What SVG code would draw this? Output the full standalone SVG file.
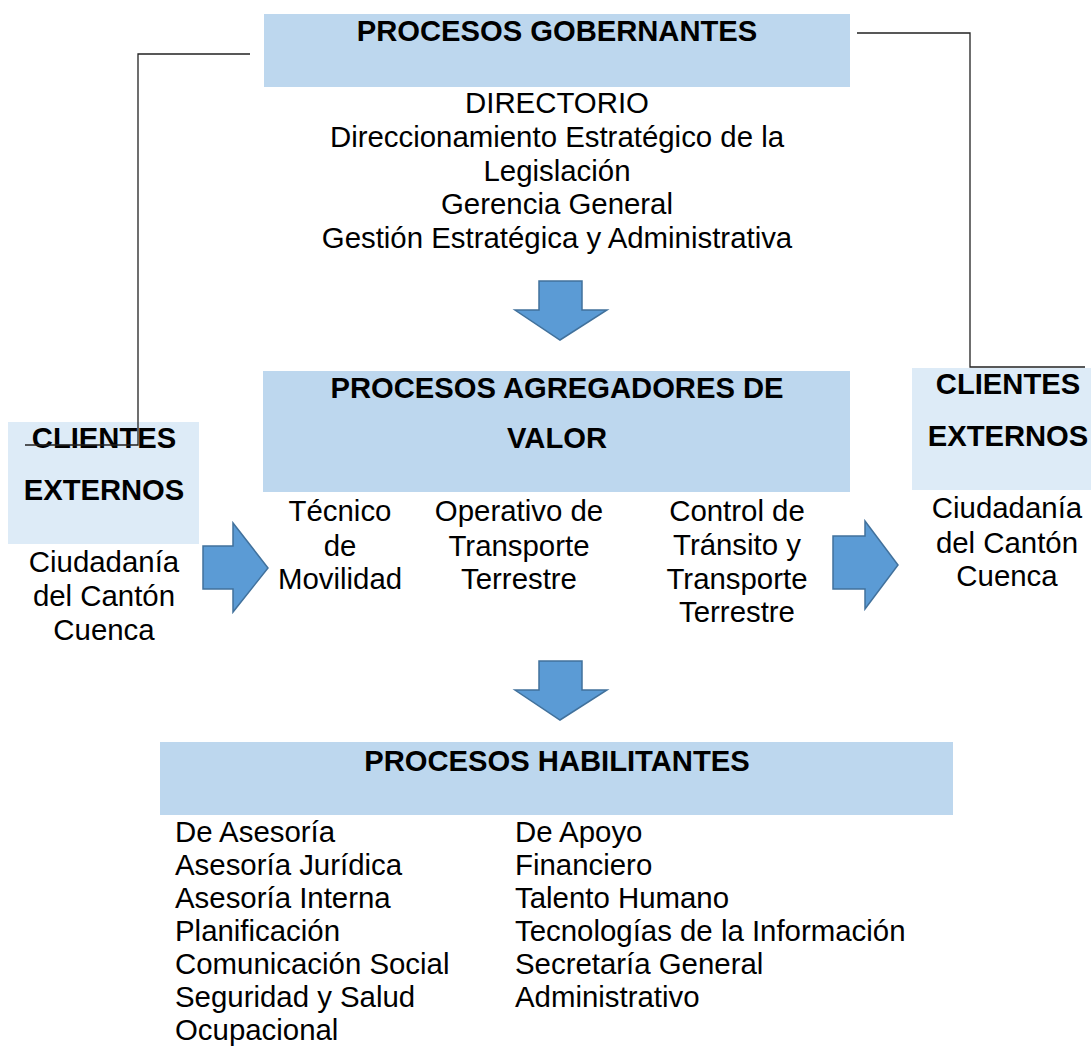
<svg xmlns="http://www.w3.org/2000/svg" width="1091" height="1047" viewBox="0 0 1091 1047">
<style>
.box{fill:#BDD7EE}
.cbox{fill:#DDEBF7}
.t{font-family:"Liberation Sans",Arial,sans-serif;font-size:29.4px;fill:#000}
.b{font-family:"Liberation Sans",Arial,sans-serif;font-size:29.2px;font-weight:bold;fill:#000}
.m{text-anchor:middle}
.arr{fill:#5B9BD5;stroke:#41719C;stroke-width:1.5}
.ln{fill:none;stroke:#222;stroke-width:1.3}
</style>
<rect width="1091" height="1047" fill="#fff"/>
<g id="gobernantes">
<rect class="box" x="264" y="14" width="586" height="73"/>
<text class="b m" x="557" y="41">PROCESOS GOBERNANTES</text>
<text class="t m" x="557" y="113">DIRECTORIO</text>
<text class="t m" x="557" y="147">Direccionamiento Estratégico de la</text>
<text class="t m" x="557" y="181">Legislación</text>
<text class="t m" x="557" y="214">Gerencia General</text>
<text class="t m" x="557" y="248">Gestión Estratégica y Administrativa</text>
</g>
<g id="agregadores">
<rect class="box" x="263" y="371" width="587" height="121"/>
<text class="b m" x="557" y="398">PROCESOS AGREGADORES DE</text>
<text class="b m" x="557" y="448">VALOR</text>
<text class="t m" x="340" y="521">Técnico</text>
<text class="t m" x="340" y="556">de</text>
<text class="t m" x="340" y="589">Movilidad</text>
<text class="t m" x="519" y="521">Operativo de</text>
<text class="t m" x="519" y="556">Transporte</text>
<text class="t m" x="519" y="589">Terrestre</text>
<text class="t m" x="737" y="521">Control de</text>
<text class="t m" x="737" y="555">Tránsito y</text>
<text class="t m" x="737" y="589">Transporte</text>
<text class="t m" x="737" y="622">Terrestre</text>
</g>
<g id="clientes-izq">
<rect class="cbox" x="8" y="422" width="191" height="122"/>
<text class="b m" x="104" y="448">CLIENTES</text>
<text class="b m" x="104" y="500">EXTERNOS</text>
<text class="t m" x="104" y="572">Ciudadanía</text>
<text class="t m" x="104" y="606">del Cantón</text>
<text class="t m" x="104" y="640">Cuenca</text>
</g>
<g id="clientes-der">
<rect class="cbox" x="912" y="368" width="185" height="122"/>
<text class="b m" x="1008" y="394">CLIENTES</text>
<text class="b m" x="1008" y="446">EXTERNOS</text>
<text class="t m" x="1007" y="518">Ciudadanía</text>
<text class="t m" x="1007" y="553">del Cantón</text>
<text class="t m" x="1007" y="586">Cuenca</text>
</g>
<g id="habilitantes">
<rect class="box" x="160" y="742" width="793" height="73"/>
<text class="b m" x="557" y="771">PROCESOS HABILITANTES</text>
<text class="t" x="175" y="842">De Asesoría</text>
<text class="t" x="175" y="875">Asesoría Jurídica</text>
<text class="t" x="175" y="908">Asesoría Interna</text>
<text class="t" x="175" y="941">Planificación</text>
<text class="t" x="175" y="974">Comunicación Social</text>
<text class="t" x="175" y="1007">Seguridad y Salud</text>
<text class="t" x="175" y="1040">Ocupacional</text>
<text class="t" x="515" y="842">De Apoyo</text>
<text class="t" x="515" y="875">Financiero</text>
<text class="t" x="515" y="908">Talento Humano</text>
<text class="t" x="515" y="941">Tecnologías de la Información</text>
<text class="t" x="515" y="974">Secretaría General</text>
<text class="t" x="515" y="1007">Administrativo</text>
</g>
<g id="connectors">
<path class="ln" d="M250,54 H138 V445 H25"/>
<path class="ln" d="M857,33 H970 V367 H1085"/>
<path class="arr" d="M539,281 H582 V310 H607 L560,340 L515,310 H539 Z"/>
<path class="arr" d="M539,661 H582 V690 H607 L560,720 L515,690 H539 Z"/>
<path class="arr" d="M203,546 H233 V523 L268,568 L233,612 V589 H203 Z"/>
<path class="arr" d="M833,536 H865 V521 L898,565 L865,609 V589 H833 Z"/>
</g>
</svg>
